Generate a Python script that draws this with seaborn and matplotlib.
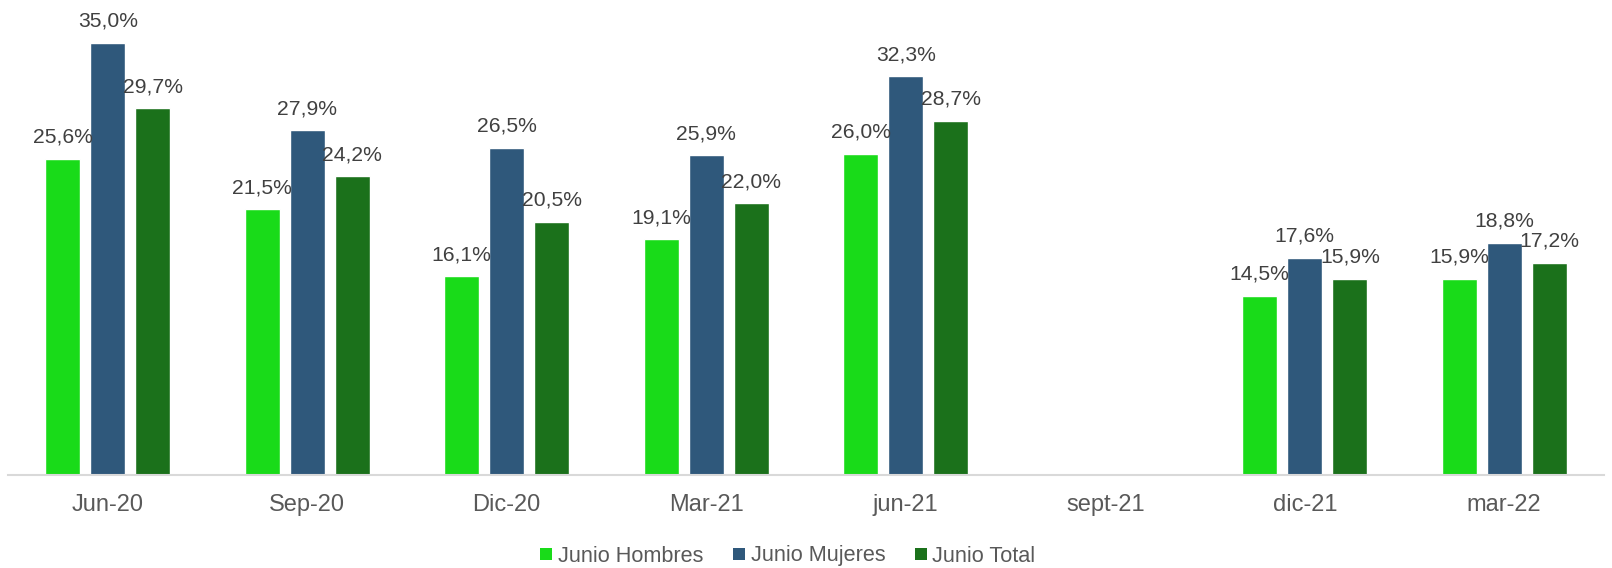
import numpy as np
import pandas as pd
import matplotlib.pyplot as plt
import seaborn as sns
from matplotlib.lines import Line2D

# === Data ===
periods = ["Jun-20", "Sep-20", "Dic-20", "Mar-21", "jun-21", "sept-21", "dic-21", "mar-22"]
hombres = [25.6, 21.5, 16.1, 19.1, 26.0, np.nan, 14.5, 15.9]
mujeres = [35.0, 27.9, 26.5, 25.9, 32.3, np.nan, 17.6, 18.8]
total = [29.7, 24.2, 20.5, 22.0, 28.7, np.nan, 15.9, 17.2]
series_names = ["Junio Hombres", "Junio Mujeres", "Junio Total"]
colors = ["#19DB19", "#2F587B", "#1B711B"]

df = pd.DataFrame({
    "Periodo": periods * 3,
    "Serie": [s for s in series_names for _ in periods],
    "Valor": hombres + mujeres + total,
})

sns.set_theme(style="white")
plt.rcParams["font.family"] = ["Liberation Sans", "DejaVu Sans"]

fig = plt.figure(figsize=(16.12, 5.68), dpi=100)
ax = fig.add_axes([8 / 1612, 1 - 475 / 568, 1596 / 1612, 475 / 568])

sns.barplot(data=df, x="Periodo", y="Valor", hue="Serie", order=periods,
            hue_order=series_names, palette=colors, width=0.678, gap=0.226,
            saturation=1, legend=False, ax=ax)

ax.set_ylim(0, 38.46)
ax.set_xlim(-0.5, len(periods) - 0.5)

# value labels
for cont in ax.containers:
    for bar in cont:
        h = bar.get_height()
        if np.isnan(h) or h == 0:
            continue
        ax.annotate(f"{h:.1f}%".replace(".", ","),
                    (bar.get_x() + bar.get_width() / 2, h),
                    xytext=(0, 12), textcoords="offset pixels",
                    ha="center", va="bottom", fontsize=15.2, color="#404040")

ax.set_xlabel("")
ax.set_ylabel("")
ax.set_yticks([])
for side in ["top", "right", "left"]:
    ax.spines[side].set_visible(False)
ax.spines["bottom"].set_color("#d9d9d9")
ax.spines["bottom"].set_linewidth(1.5)
ax.tick_params(axis="x", length=0, labelsize=17, labelcolor="#595959", pad=14)

handles = [Line2D([], [], marker="s", linestyle="none", markersize=8,
                  markerfacecolor=c, markeredgewidth=0, label=s)
           for c, s in zip(colors, series_names)]
fig.legend(handles=handles, loc="center", bbox_to_anchor=(0.489, 1 - 556 / 568),
           ncol=3, frameon=False, fontsize=15.6, labelcolor="#595959",
           handlelength=0.5, handletextpad=0.28, columnspacing=1.4,
           borderaxespad=0, borderpad=0)

fig.savefig("out.png", dpi=100)
